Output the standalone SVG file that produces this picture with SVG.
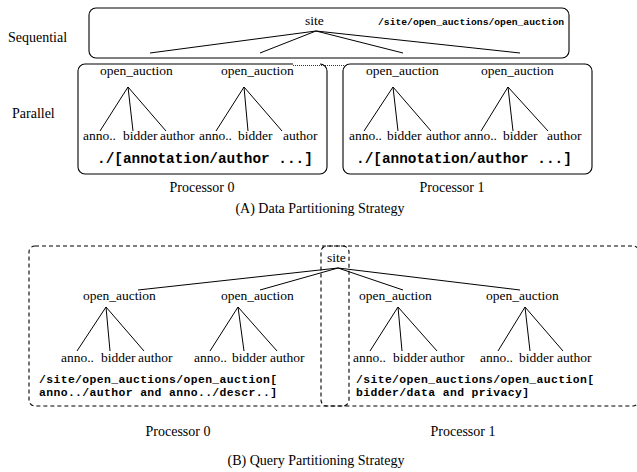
<svg xmlns="http://www.w3.org/2000/svg" width="637" height="472" viewBox="0 0 637 472">
  <style>
    .lbl { font-family: "Liberation Serif", "Times New Roman", serif; font-size: 13.5px; fill: #000; }
    .big { font-family: "Liberation Serif", "Times New Roman", serif; font-size: 14px; fill: #000; }
    .code { font-family: "Liberation Mono", "Courier New", monospace; font-weight: bold; fill: #000; }
    .edge { stroke: #000; stroke-width: 1; fill: none; }
    .box { stroke: #000; stroke-width: 1.1; fill: none; }
    .dbox { stroke: #000; stroke-width: 1.1; fill: none; stroke-dasharray: 4 3; }
  </style>

  <!-- (A) Data partitioning -->
  <text class="big" x="8" y="42">Sequential</text>
  <text class="big" x="12" y="118">Parallel</text>

  <g id="a-sequential">
    <rect class="box" x="89" y="8" width="480" height="50" rx="7"/>
    <text class="lbl" x="305" y="25">site</text>
    <text class="code" x="378" y="25" font-size="9.7">/site/open_auctions/open_auction</text>
  </g>

  <g id="a-proc0">
    <path class="box" d="M293,64 H85 A7,7 0 0 0 78,71 V167 A7,7 0 0 0 85,174 H320 A7,7 0 0 0 327,167 V71 A7,7 0 0 0 320,64"/>
    <text class="lbl" x="100" y="75">open_auction</text>
    <text class="lbl" x="221" y="75">open_auction</text>
    <text class="lbl" x="83" y="140">anno..</text>
    <text class="lbl" x="123" y="140">bidder</text>
    <text class="lbl" x="160" y="140">author</text>
    <text class="lbl" x="199" y="140">anno..</text>
    <text class="lbl" x="238" y="140">bidder</text>
    <text class="lbl" x="283" y="140">author</text>
    <text class="code" x="97" y="163" font-size="14.4">./[annotation/author ...]</text>
  </g>

  <g id="a-proc1">
    <rect class="box" x="343" y="64" width="249" height="110" rx="7"/>
    <text class="lbl" x="366" y="75">open_auction</text>
    <text class="lbl" x="481" y="75">open_auction</text>
    <text class="lbl" x="349" y="140">anno..</text>
    <text class="lbl" x="387" y="140">bidder</text>
    <text class="lbl" x="426" y="140">author</text>
    <text class="lbl" x="464" y="140">anno..</text>
    <text class="lbl" x="503" y="140">bidder</text>
    <text class="lbl" x="547" y="140">author</text>
    <text class="code" x="356" y="163" font-size="14.4">./[annotation/author ...]</text>
  </g>

  <g id="a-connectors">
    <line x1="293" y1="65.5" x2="345" y2="65.5" stroke="#000" stroke-width="0.8" stroke-dasharray="1 1"/>
    <path class="edge" d="M316,31 L150,53 M316,31 L260,53 M316,31 L403,53 M316,31 L520,53"/>
    <path class="edge" d="M128,87 L100,131 M128,87 L133,131 M128,87 L166,131"/>
    <path class="edge" d="M244,87 L216,131 M244,87 L248,131 M244,87 L282,131"/>
    <path class="edge" d="M393,87 L364,131 M393,87 L398,131 M393,87 L431,131"/>
    <path class="edge" d="M508,87 L481,131 M508,87 L513,131 M508,87 L548,131"/>
  </g>

  <text class="big" x="202" y="192" text-anchor="middle" font-size="13">Processor 0</text>
  <text class="big" x="452" y="192" text-anchor="middle" font-size="13">Processor 1</text>
  <text class="big" x="320" y="213" text-anchor="middle">(A) Data Partitioning Strategy</text>

  <!-- (B) Query partitioning -->
  <g id="b-proc0">
    <rect class="dbox" x="29" y="246" width="320" height="160" rx="6"/>
    <text class="lbl" x="83" y="300">open_auction</text>
    <text class="lbl" x="221" y="300">open_auction</text>
    <text class="lbl" x="61" y="362">anno..</text>
    <text class="lbl" x="101" y="362">bidder</text>
    <text class="lbl" x="138" y="362">author</text>
    <text class="lbl" x="194" y="362">anno..</text>
    <text class="lbl" x="232" y="362">bidder</text>
    <text class="lbl" x="270" y="362">author</text>
    <text class="code" x="39" y="383" font-size="11.4" textLength="238" lengthAdjust="spacing">/site/open_auctions/open_auction[</text>
    <text class="code" x="39" y="395.5" font-size="11.4" textLength="238" lengthAdjust="spacing">anno../author and anno../descr..]</text>
  </g>

  <g id="b-proc1">
    <rect class="dbox" x="321" y="246" width="318" height="160" rx="6"/>
    <text class="lbl" x="359" y="300">open_auction</text>
    <text class="lbl" x="486" y="300">open_auction</text>
    <text class="lbl" x="353" y="362">anno..</text>
    <text class="lbl" x="393" y="362">bidder</text>
    <text class="lbl" x="430" y="362">author</text>
    <text class="lbl" x="480" y="362">anno..</text>
    <text class="lbl" x="519" y="362">bidder</text>
    <text class="lbl" x="557" y="362">author</text>
    <text class="code" x="356" y="383" font-size="11.4" textLength="238" lengthAdjust="spacing">/site/open_auctions/open_auction[</text>
    <text class="code" x="356" y="395.5" font-size="11.4" textLength="173" lengthAdjust="spacing">bidder/data and privacy]</text>
  </g>

  <g id="b-site">
    <text class="lbl" x="327" y="262">site</text>
  </g>

  <g id="b-connectors">
    <path class="edge" d="M338,268 L138,290 M338,268 L260,290 M338,268 L403,290 M338,268 L520,290"/>
    <path class="edge" d="M106,307 L77,351 M106,307 L110,351 M106,307 L144,351"/>
    <path class="edge" d="M238,307 L210,351 M238,307 L244,351 M238,307 L277,351"/>
    <path class="edge" d="M398,307 L370,351 M398,307 L402,351 M398,307 L437,351"/>
    <path class="edge" d="M525,307 L498,351 M525,307 L530,351 M525,307 L563,351"/>
  </g>

  <text class="big" x="178" y="436" text-anchor="middle">Processor 0</text>
  <text class="big" x="463" y="436" text-anchor="middle">Processor 1</text>
  <text class="big" x="316" y="465" text-anchor="middle">(B) Query Partitioning Strategy</text>
</svg>
